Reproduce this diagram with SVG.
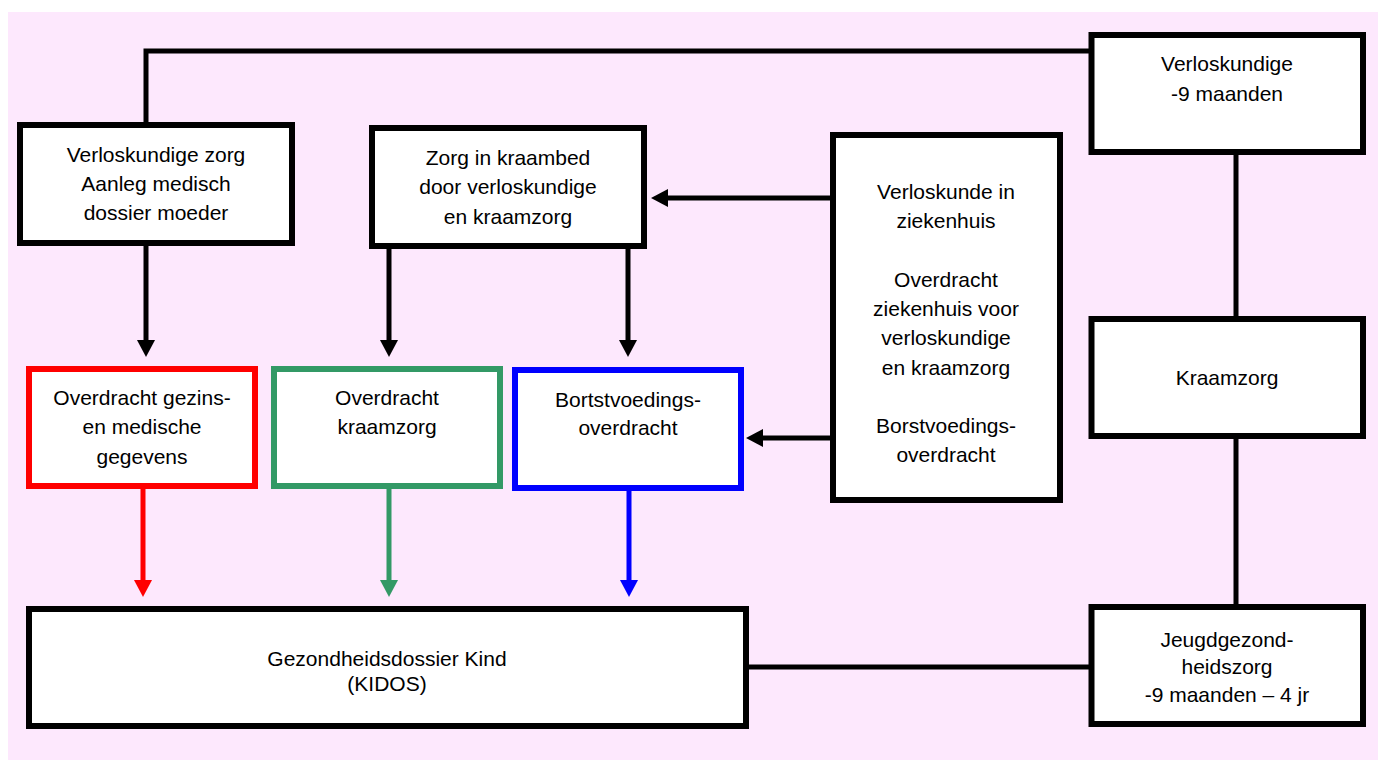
<svg xmlns="http://www.w3.org/2000/svg" width="1378" height="760" viewBox="0 0 1378 760">
<style>
.box{fill:#fff;stroke:#000;stroke-width:6}
.red{fill:#fff;stroke:#f00;stroke-width:6}
.green{fill:#fff;stroke:#339966;stroke-width:6}
.blue{fill:#fff;stroke:#00f;stroke-width:6}
.t{font-family:"Liberation Sans",Arial,sans-serif;font-size:21px;fill:#000;text-anchor:middle}
.c{fill:none;stroke-width:5}
</style>
<defs>
<marker id="ak" viewBox="0 0 17 18" refX="0" refY="9" markerWidth="17" markerHeight="18" markerUnits="userSpaceOnUse" orient="auto"><path d="M0,0 L17,9 L0,18 z" fill="#000"/></marker>
<marker id="ar" viewBox="0 0 17 18" refX="0" refY="9" markerWidth="17" markerHeight="18" markerUnits="userSpaceOnUse" orient="auto"><path d="M0,0 L17,9 L0,18 z" fill="#f00"/></marker>
<marker id="ag" viewBox="0 0 17 18" refX="0" refY="9" markerWidth="17" markerHeight="18" markerUnits="userSpaceOnUse" orient="auto"><path d="M0,0 L17,9 L0,18 z" fill="#339966"/></marker>
<marker id="ab" viewBox="0 0 17 18" refX="0" refY="9" markerWidth="17" markerHeight="18" markerUnits="userSpaceOnUse" orient="auto"><path d="M0,0 L17,9 L0,18 z" fill="#00f"/></marker>
</defs>
<rect x="8" y="12" width="1370" height="748" fill="#fde8fd"/>
<g id="connectors">
<path class="c" stroke="#000" d="M146,122 V51 H1089"/>
<path class="c" stroke="#000" d="M1236,155 V316 M1236,439 V604"/>
<path class="c" stroke="#000" d="M749,667 H1089"/>
<path class="c" stroke="#000" d="M146,246 V340" marker-end="url(#ak)"/>
<path class="c" stroke="#000" d="M389,249 V340" marker-end="url(#ak)"/>
<path class="c" stroke="#000" d="M628,249 V340" marker-end="url(#ak)"/>
<path class="c" stroke="#000" d="M830,198 H668" marker-end="url(#ak)"/>
<path class="c" stroke="#000" d="M830,438 H763" marker-end="url(#ak)"/>
<path class="c" stroke="#f00" d="M143,489 V580" marker-end="url(#ar)"/>
<path class="c" stroke="#339966" d="M389,489 V580" marker-end="url(#ag)"/>
<path class="c" stroke="#00f" d="M629,491 V580" marker-end="url(#ab)"/>
</g>
<g id="n-verloskundige-zorg">
<rect class="box" x="20" y="125" width="272" height="118"/>
<text class="t" x="156" y="162">Verloskundige zorg</text>
<text class="t" x="156" y="191">Aanleg medisch</text>
<text class="t" x="156" y="220">dossier moeder</text>
</g>
<g id="n-kraambed">
<rect class="box" x="372" y="128" width="272" height="118"/>
<text class="t" x="508" y="165">Zorg in kraambed</text>
<text class="t" x="508" y="194">door verloskundige</text>
<text class="t" x="508" y="224">en kraamzorg</text>
</g>
<g id="n-ziekenhuis">
<rect class="box" x="833" y="135" width="227" height="365"/>
<text class="t" x="946" y="199">Verloskunde in</text>
<text class="t" x="946" y="228">ziekenhuis</text>
<text class="t" x="946" y="287">Overdracht</text>
<text class="t" x="946" y="316">ziekenhuis voor</text>
<text class="t" x="946" y="345">verloskundige</text>
<text class="t" x="946" y="375">en kraamzorg</text>
<text class="t" x="946" y="433">Borstvoedings-</text>
<text class="t" x="946" y="462">overdracht</text>
</g>
<g id="n-verloskundige">
<rect class="box" x="1091.5" y="35" width="271.5" height="117"/>
<text class="t" x="1227" y="71">Verloskundige</text>
<text class="t" x="1227" y="101">-9 maanden</text>
</g>
<g id="n-kraamzorg">
<rect class="box" x="1091.5" y="319" width="271.5" height="117"/>
<text class="t" x="1227" y="385">Kraamzorg</text>
</g>
<g id="n-jeugd">
<rect class="box" x="1091.5" y="607" width="271.5" height="117"/>
<text class="t" x="1227" y="647">Jeugdgezond-</text>
<text class="t" x="1227" y="674">heidszorg</text>
<text class="t" x="1227" y="702">-9 maanden – 4 jr</text>
</g>
<g id="n-overdracht-gezins">
<rect class="red" x="29" y="369" width="226" height="117"/>
<text class="t" x="142" y="405">Overdracht gezins-</text>
<text class="t" x="142" y="434">en medische</text>
<text class="t" x="142" y="464">gegevens</text>
</g>
<g id="n-overdracht-kraamzorg">
<rect class="green" x="274" y="369" width="226" height="117"/>
<text class="t" x="387" y="405">Overdracht</text>
<text class="t" x="387" y="434">kraamzorg</text>
</g>
<g id="n-borstvoeding">
<rect class="blue" x="515" y="370" width="226" height="118"/>
<text class="t" x="628" y="407">Bortstvoedings-</text>
<text class="t" x="628" y="435">overdracht</text>
</g>
<g id="n-kidos">
<rect class="box" x="29" y="609" width="717" height="117"/>
<text class="t" x="387" y="666">Gezondheidsdossier Kind</text>
<text class="t" x="387" y="691">(KIDOS)</text>
</g>
</svg>
